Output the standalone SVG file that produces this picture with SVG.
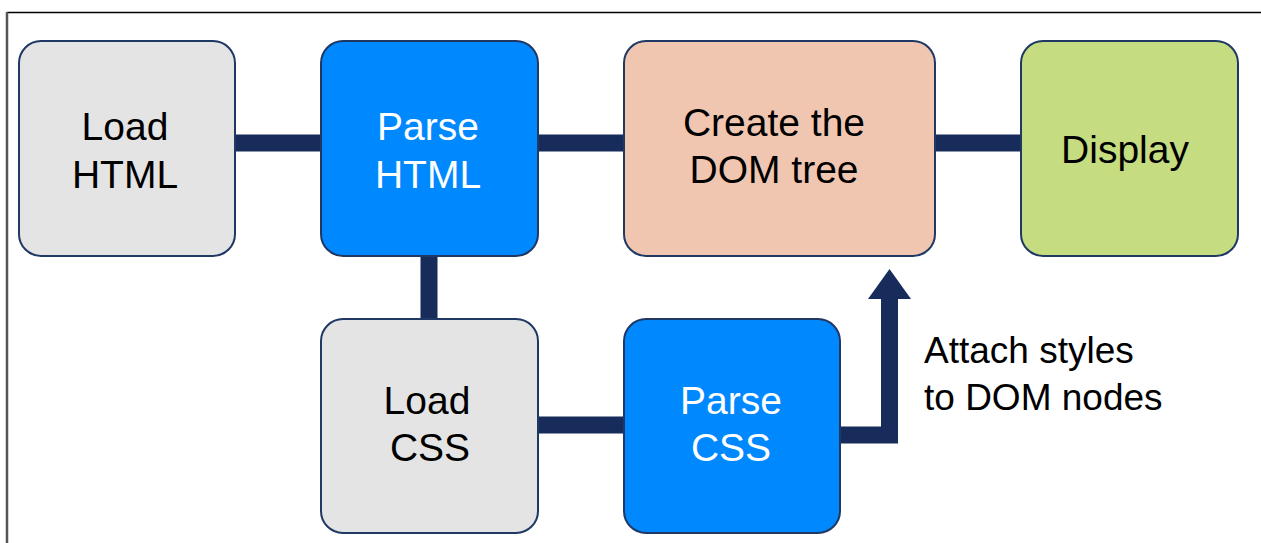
<svg xmlns="http://www.w3.org/2000/svg" width="1261" height="543" viewBox="0 0 1261 543">
<style>
.box{stroke:#1F3864;stroke-width:2}
.gray{fill:#E4E4E4}
.blue{fill:#0088FF}
.peach{fill:#F0C6B0}
.green{fill:#C5DD80}
text{font-family:"Liberation Sans",Arial,sans-serif;font-size:39px;text-anchor:middle}
.dk{fill:#000}
.wt{fill:#fff}
.lbl{font-size:37px;text-anchor:start}
.conn{stroke:#172C5A;stroke-width:17;fill:none}
</style>
<rect width="1261" height="543" fill="#fff"/>
<line x1="7" y1="12.5" x2="1261" y2="12.5" stroke="#000" stroke-width="1.5"/>
<line x1="7" y1="12" x2="7" y2="543" stroke="#555" stroke-width="2.5"/>
<g id="connectors">
<line class="conn" x1="235" y1="143" x2="321" y2="143"/>
<line class="conn" x1="538" y1="143" x2="624" y2="143"/>
<line class="conn" x1="935" y1="143" x2="1021" y2="143"/>
<line class="conn" x1="429" y1="256" x2="429" y2="319"/>
<line class="conn" x1="538" y1="425" x2="624" y2="425"/>
<polyline class="conn" points="840,435 889.5,435 889.5,296" stroke-linejoin="miter"/>
<polygon points="868,299 911,299 889.5,269" fill="#172C5A"/>
</g>
<g id="load-html">
<rect class="box gray" x="19" y="41" width="216" height="215" rx="22"/>
<text class="dk" x="125" y="140">Load</text>
<text class="dk" x="125" y="188">HTML</text>
</g>
<g id="parse-html">
<rect class="box blue" x="321" y="41" width="217" height="215" rx="22"/>
<text class="wt" x="428" y="140">Parse</text>
<text class="wt" x="428" y="188">HTML</text>
</g>
<g id="create-dom">
<rect class="box peach" x="624" y="41" width="311" height="215" rx="22"/>
<text class="dk" x="774" y="136">Create the</text>
<text class="dk" x="774" y="183">DOM tree</text>
</g>
<g id="display">
<rect class="box green" x="1021" y="41" width="217" height="215" rx="22"/>
<text class="dk" x="1125" y="163">Display</text>
</g>
<g id="load-css">
<rect class="box gray" x="321" y="319" width="217" height="214" rx="22"/>
<text class="dk" x="427" y="414">Load</text>
<text class="dk" x="430" y="461">CSS</text>
</g>
<g id="parse-css">
<rect class="box blue" x="624" y="319" width="216" height="214" rx="22"/>
<text class="wt" x="731" y="414">Parse</text>
<text class="wt" x="731" y="461">CSS</text>
</g>
<g id="label">
<text class="dk lbl" x="924" y="363">Attach styles</text>
<text class="dk lbl" x="924" y="410">to DOM nodes</text>
</g>
</svg>
